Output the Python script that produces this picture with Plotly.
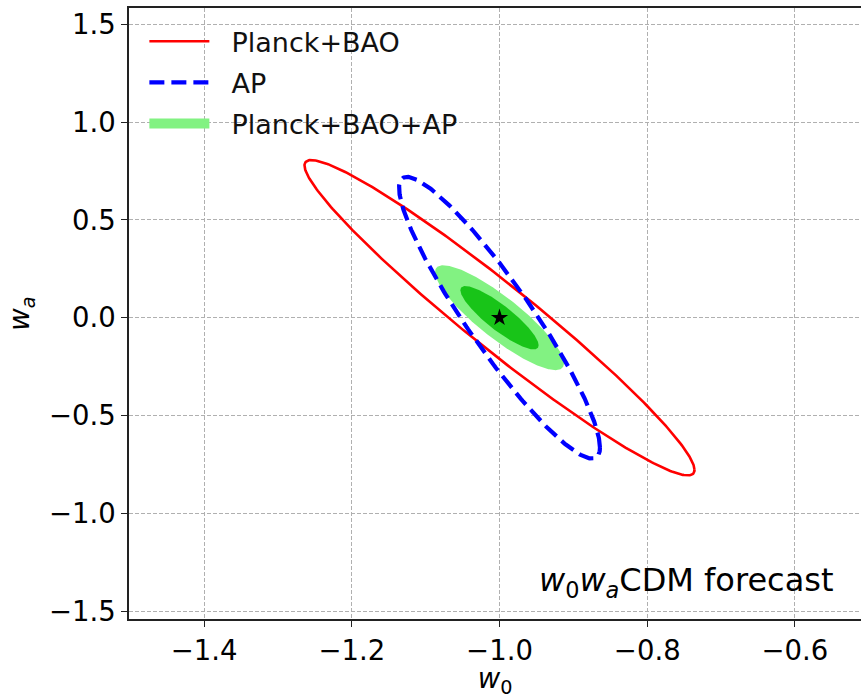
import numpy as np
import plotly.graph_objects as go

# Forecast contours (centre, half-extent in w0, half-extent in wa, correlation)
fiducial_w0 = -1.0
fiducial_wa = 0.0

contour_names = ["Planck+BAO", "AP", "Planck+BAO+AP (2σ)", "Planck+BAO+AP (1σ)"]
sigma_w0 = [0.264, 0.136, 0.0873, 0.053]
sigma_wa = [0.806, 0.720, 0.268, 0.162]
rho_w0wa = [-0.965, -0.921, -0.870, -0.870]

x_ticks = [-1.4, -1.2, -1.0, -0.8, -0.6]
y_ticks = [-1.5, -1.0, -0.5, 0.0, 0.5, 1.0, 1.5]


def ellipse(i, n=400):
    t = np.linspace(0, 2 * np.pi, n)
    sx, sy, r = sigma_w0[i], sigma_wa[i], rho_w0wa[i]
    x = fiducial_w0 + sx * np.cos(t)
    y = fiducial_wa + sy * (r * np.cos(t) + np.sqrt(1 - r * r) * np.sin(t))
    return x, y


FONT = "DejaVu Sans"
GAP = "&nbsp;&nbsp;"
fig = go.Figure()

# Filled combined contours
x, y = ellipse(2)
fig.add_trace(go.Scatter(x=x, y=y, mode="lines", fill="toself",
                         fillcolor="#82f282", line=dict(width=0, color="#82f282"),
                         showlegend=False, hoverinfo="skip"))
x, y = ellipse(3)
fig.add_trace(go.Scatter(x=x, y=y, mode="lines", fill="toself",
                         fillcolor="#18c418", line=dict(width=0, color="#18c418"),
                         showlegend=False, hoverinfo="skip"))

# Planck+BAO
x, y = ellipse(0)
fig.add_trace(go.Scatter(x=x, y=y, mode="lines", name=GAP + "Planck+BAO",
                         legendgroup="a",
                         line=dict(color="#ff0000", width=2.6)))
# AP
x, y = ellipse(1)
fig.add_trace(go.Scatter(x=x, y=y, mode="lines", name=GAP + "AP",
                         legendgroup="b",
                         line=dict(color="#0000ff", width=4.2, dash="15px,7px")))
# legend entry for combined
fig.add_trace(go.Scatter(x=[None], y=[None], mode="lines", name=GAP + "Planck+BAO+AP",
                         legendgroup="c",
                         line=dict(color="#82f282", width=12)))

# fiducial
fig.add_trace(go.Scatter(x=[fiducial_w0], y=[fiducial_wa], mode="markers",
                         marker=dict(symbol="star", size=13, color="black",
                                     line=dict(width=0)),
                         showlegend=False))

fig.add_annotation(x=0.9655, y=0.06, xref="paper", yref="paper",
                   xanchor="right", yanchor="middle", showarrow=False,
                   text="<i>w</i><sub>0</sub><i>w</i><sub><i>a</i></sub>CDM forecast",
                   font=dict(family=FONT, size=32, color="black"))

fig.update_layout(
    width=861, height=699,
    margin=dict(l=129, r=0, t=8, b=80, autoexpand=False),
    plot_bgcolor="white", paper_bgcolor="white",
    font=dict(family=FONT, size=27.5, color="black"),
    showlegend=True,
    legend=dict(x=0.021, y=0.985, xanchor="left", yanchor="top",
                bgcolor="rgba(0,0,0,0)", borderwidth=0,
                font=dict(family=FONT, size=27, color="#111"),
                itemwidth=60, tracegroupgap=3),
    xaxis=dict(range=[-1.5016, -0.5106], tickvals=x_ticks,
               ticktext=[f"{v:.1f}".replace("-", "\u2212") for v in x_ticks],
               showgrid=True, gridcolor="#b0b0b0", griddash="4px,2px", gridwidth=1,
               showline=True, linecolor="#222", linewidth=1.5, mirror=True,
               ticks="outside", ticklen=6, tickcolor="#222", tickwidth=1.2,
               zeroline=False, automargin=False,
               title=dict(text="<i>w</i><sub>0</sub>", standoff=4,
                          font=dict(family=FONT, size=27.5))),
    yaxis=dict(range=[-1.54, 1.583], tickvals=y_ticks,
               ticktext=[f"{v:.1f}".replace("-", "\u2212") for v in y_ticks],
               showgrid=True, gridcolor="#b0b0b0", griddash="4px,2px", gridwidth=1,
               showline=True, linecolor="#222", linewidth=1.5, mirror=False,
               ticks="outside", ticklen=6, tickcolor="#222", tickwidth=1.2,
               zeroline=False, automargin=False,
               title=dict(text="<i>w</i><sub><i>a</i></sub>", standoff=11,
                          font=dict(family=FONT, size=27.5))),
)

fig.write_html("out.html", config={"displayModeBar": False},
               post_script="document.body.style.margin='0';document.body.style.overflow='hidden';")
